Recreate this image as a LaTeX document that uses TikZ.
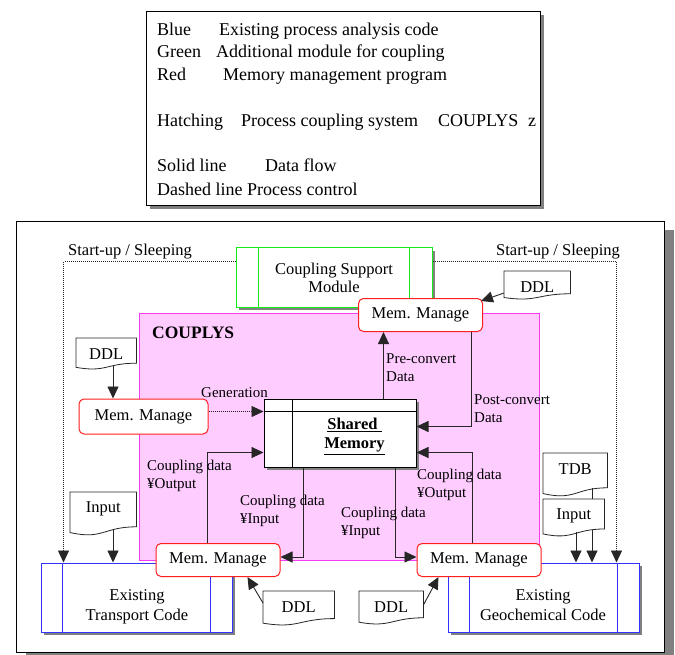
\documentclass[tikz,border=0pt]{standalone}
\usepackage{fontspec}
\setmainfont{Liberation Serif}
\usepackage{tikz}
\usetikzlibrary{arrows.meta,calc,shadows,positioning}
\definecolor{supgreen}{RGB}{20,235,20}
\definecolor{codeblue}{RGB}{51,51,255}
\definecolor{memred}{RGB}{255,30,30}
\definecolor{hatchpink}{RGB}{255,204,255}
\definecolor{hatchedge}{RGB}{245,60,245}
\definecolor{shadowgray}{RGB}{128,128,128}
% document symbol: name, top left corner, width, height, text
\newcommand{\docnode}[5]{%
  \node[docframe, minimum width=#3pt, minimum height=#4pt] (#1) at (#2) {};
  \filldraw[docline] (#1.north west) -- (#1.north east)
    -- ($(#1.north east)!0.802!(#1.south east)$)
    .. controls ($(#1.north)!0.802!(#1.south)$) and ($(#1.north)!1.107!(#1.south)$)
    .. ($(#1.north west)!0.934!(#1.south west)$) -- cycle;
  \node[inner sep=0pt] (#1text) at ([yshift=-16.5pt]#1.north) {#5};
}
\tikzset{
  boxshadow/.style={drop shadow={shadow xshift=3pt,shadow yshift=-3pt,fill=shadowgray,opacity=1}},
  legendbox/.style={draw,line width=0.8pt,fill=white,inner sep=0pt,
    drop shadow={shadow xshift=4pt,shadow yshift=-4pt,fill=shadowgray,opacity=1}},
  legendtext/.style={anchor=base west,inner sep=0pt,font=\fontsize{18}{22}\selectfont},
  frame/.style={draw,line width=0.8pt,fill=white,inner sep=0pt,
    drop shadow={shadow xshift=10pt,shadow yshift=-9pt,fill=shadowgray,opacity=1}},
  hatch/.style={draw=hatchedge,fill=hatchpink,line width=0.8pt,inner sep=0pt},
  codebox/.style={draw=codeblue,line width=1pt,fill=white,inner sep=0pt,
    minimum width=191pt,minimum height=69pt,boxshadow},
  supportbox/.style={draw=supgreen,line width=1pt,fill=white,align=center,inner sep=0pt,
    boxshadow,font=\fontsize{16.5}{18}\selectfont},
  membox/.style={draw=memred,line width=1pt,rounded corners=5pt,fill=white,
    minimum width=124pt,minimum height=33pt,inner sep=0pt},
  sharedbox/.style={draw,line width=1pt,fill=white,inner sep=0pt,boxshadow},
  docframe/.style={inner sep=0pt,anchor=north west},
  docline/.style={draw=black!85,fill=white,line width=0.8pt},
  flow/.style={draw=black!85,line width=0.9pt,-{Triangle[length=12pt,width=11pt]}},
  control/.style={flow,line width=0.6pt,dash pattern=on 1pt off 1pt},
  lbl/.style={anchor=west,align=left,inner sep=0pt,font=\fontsize{15}{18}\selectfont}
}
\begin{document}
\begin{tikzpicture}[x=1pt,y=-1pt,font=\fontsize{16.5}{19}\selectfont]
\useasboundingbox (0,0) rectangle (675,655);

% legend
\node[legendbox,minimum width=394pt,minimum height=194pt] (legend) at (343,108) {};
\foreach \y/\lkey/\x/\lmeaning in {
  36/Blue/219/Existing process analysis code,
  58/Green/216/Additional module for coupling,
  81/Red/223/Memory management program,
  127/Hatching/241/Process coupling system,
  172/Solid line/265/Data flow,
  196/Dashed line/247/Process control
} {
  \node[legendtext] (key\y) at (157,\y) {\lkey};
  \node[legendtext] (meaning\y) at (\x,\y) {\lmeaning};
}
\node[legendtext] (legendname) at (438,127) {COUPLYS};
\node[legendtext] (legendz) at (528,127) {z};

% frame and COUPLYS area
\node[frame,minimum width=648pt,minimum height=431pt] (frame) at (340,436.5) {};
\node[hatch,minimum width=400pt,minimum height=247pt] (couplys) at (339,436.5) {};
\node[anchor=base west,inner sep=0pt,font=\fontsize{17.5}{20}\bfseries] (couplystitle) at (152,338) {COUPLYS};

% boxes
\node[supportbox,minimum width=196pt,minimum height=59pt] (support) at (334,277.5) {Coupling Support\\Module};
\node[codebox] (transport) at (136.5,597.5) {};
\node[codebox] (geo) at (543.5,597.5) {};
\node[align=center,inner sep=0pt,font=\fontsize{16.5}{20}\selectfont] (transporttext) at (137,607) {Existing\\Transport Code};
\node[align=center,inner sep=0pt,font=\fontsize{16.5}{20}\selectfont] (geotext) at (543,605) {Existing\\Geochemical Code};
\foreach \n/\c/\d in {support/supgreen/23,transport/codeblue/22,geo/codeblue/22}
  \draw[draw=\c,line width=1pt] ([xshift=\d pt]\n.north west) -- ([xshift=\d pt]\n.south west)
    ([xshift=-\d pt]\n.north east) -- ([xshift=-\d pt]\n.south east);

\node[sharedbox,minimum width=152pt,minimum height=68pt] (shm) at (340,433) {};
\coordinate (shmbar) at ([yshift=-13pt]shm.north west);
\draw[line width=1pt] (shmbar) -- (shmbar -| shm.east)
  ([xshift=29pt]shm.north west) -- ([xshift=29pt]shm.south west);
\node[align=center,inner sep=0pt,font=\fontsize{16.5}{19}\bfseries] (shmtext) at (354.5,436.5) {\underline{Shared }\\\underline{Memory}};

\node[membox] (mmtop) at (420.5,315) {Mem. Manage};
\node[membox,minimum width=129pt,minimum height=35pt] (mmleft) at (143.5,416.5) {Mem. Manage};
\node[membox] (mmbl) at (218,560) {Mem. Manage};
\node[membox] (mmbr) at (479,560) {Mem. Manage};

% documents
\docnode{ddltr}{504,271}{66}{28}{DDL}
\docnode{ddll}{76,338}{60}{31}{DDL}
\docnode{inl}{70,492}{66}{43}{Input}
\docnode{ddlbl}{263,591}{71}{34}{DDL}
\docnode{ddlbr}{359,591}{64}{33}{DDL}
\docnode{tdb}{543,453}{64}{43}{TDB}
\coordinate (tdbout) at ([xshift=49pt,yshift=-35pt]tdb.north west);
\draw[flow] (tdbout) -- (tdbout |- geo.north);
\docnode{inr}{543,499}{61}{37}{Input}

% process control
\node[anchor=base west,inner sep=0pt] (sleepl) at (68,256) {Start-up / Sleeping};
\node[anchor=base west,inner sep=0pt] (sleepr) at (496,256) {Start-up / Sleeping};
\draw[control] ([yshift=-14pt]support.north west) -| ([xshift=23pt]transport.north west);
\draw[control] ([yshift=-14pt]support.north east) -| ([xshift=-23pt]geo.north east);
\draw[control] (mmleft.east |- shmbar) -- (shmbar);
\node[lbl] (genlabel) at (201,393) {Generation};

% data flow
\draw[flow] ([yshift=-22pt]ddltr.north west) -- ([xshift=-2pt,yshift=-3pt]mmtop.north east);
\coordinate (ddllout) at ([xshift=37pt,yshift=-27pt]ddll.north west);
\draw[flow] (ddllout) -- (ddllout |- mmleft.north);
\coordinate (inlout) at ([xshift=43pt,yshift=-37pt]inl.north west);
\draw[flow] (inlout) -- (inlout |- transport.north);
\coordinate (inrout) at ([xshift=33pt,yshift=-33pt]inr.north west);
\draw[flow] (inrout) -- (inrout |- geo.north);
\draw[flow] ([yshift=-12pt]ddlbl.north west) -- ([xshift=92pt]mmbl.south west);
\draw[flow] ([yshift=-14pt]ddlbr.north east) -- ([xshift=22pt]mmbr.south west);

\coordinate (pre) at ([xshift=120pt]shm.north west);
\draw[flow] (pre) -- (pre |- mmtop.south);
\draw[flow] ([xshift=-12pt]mmtop.south east) |- ([yshift=-28pt]shm.north east);
\draw[flow] ([xshift=52pt]mmbl.north west) |- ([yshift=-54pt]shm.north west);
\draw[flow] ([xshift=40pt]shm.south west) |- ([yshift=3pt]mmbl.east);
\draw[flow] ([xshift=-21pt]shm.south east) |- ([yshift=3pt]mmbr.west);
\draw[flow] ([xshift=56pt]mmbr.north west) |- ([yshift=-54pt]shm.north east);

\node[lbl] (prelabel) at (386,367.5) {Pre-convert\\Data};
\node[lbl] (postlabel) at (474,409) {Post-convert\\Data};
\node[lbl] (outleft) at (147,475.5) {Coupling data\\¥Output};
\node[lbl] (inleft) at (240,510.5) {Coupling data\\¥Input};
\node[lbl] (inright) at (341,523) {Coupling data\\¥Input};
\node[lbl] (outright) at (417,484.5) {Coupling data\\¥Output};
\end{tikzpicture}
\end{document}
